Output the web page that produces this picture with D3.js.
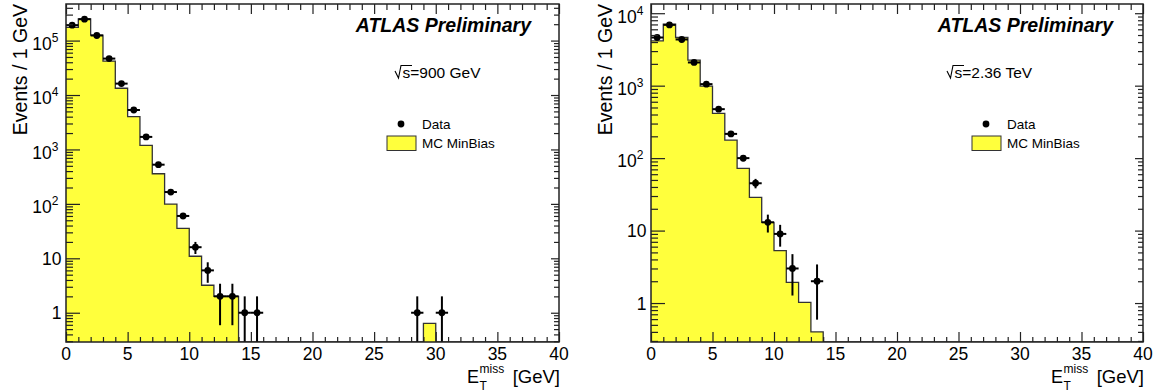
<!DOCTYPE html>
<html>
<head>
<meta charset="utf-8">
<script src="https://cdn.jsdelivr.net/npm/d3@7"></script>
<style>
  html, body { margin: 0; padding: 0; background: #fff; }
  svg { display: block; font-family: "Liberation Sans", Arial, Helvetica, sans-serif; }
</style>
</head>
<body>
<svg id="chart" width="1164" height="392"></svg>
<script>
// ---------------- DATA ----------------
const binLow = [0,1,2,3,4,5,6,7,8,9,10,11,12,13,14,15,16,17,18,19,20,21,22,23,24,25,26,27,28,29,30,31,32,33,34,35,36,37,38,39];
const binWidth = 1;

// sqrt(s) = 900 GeV
const data900 = [192000,247000,124000,46700,16200,5300,1700,525,165,60,16,6,2,2,1,1,0,0,0,0,0,0,0,0,0,0,0,0,1,0,1,0,0,0,0,0,0,0,0,0];
const err900  = [440,497,352,216,127,73,41,23,12.8,7.7,4,2.45,1.41,1.41,1,1,0,0,0,0,0,0,0,0,0,0,0,0,1,0,1,0,0,0,0,0,0,0,0,0];
const mc900   = [175000,250000,126000,42000,13300,4000,1190,358,99,35.5,10.9,3.2,2.0,2.0,0,0,0,0,0,0,0,0,0,0,0,0,0,0,0,0.64,0,0,0,0,0,0,0,0,0,0];

// sqrt(s) = 2.36 TeV
const data236 = [4620,6900,4340,2090,1050,474,216,100,45,13,9,3,0,2,0,0,0,0,0,0,0,0,0,0,0,0,0,0,0,0,0,0,0,0,0,0,0,0,0,0];
const err236  = [68,83,66,46,32,22,14.7,10,6.7,3.6,3,1.73,0,1.41,0,0,0,0,0,0,0,0,0,0,0,0,0,0,0,0,0,0,0,0,0,0,0,0,0,0];
const mc236   = [4150,7050,4620,2250,984,414,177,72,28.7,13,5.3,1.93,1.02,0.40,0,0,0,0,0,0,0,0,0,0,0,0,0,0,0,0,0,0,0,0,0,0,0,0,0,0];

const xMajorTicks = [0,5,10,15,20,25,30,35,40];
const xTickLabels = ["0","5","10","15","20","25","30","35","40"];
const yMajor900 = [1,10,100,1000,10000,100000];
const yMajor236 = [1,10,100,1000,10000];
const yExp900 = [null,null,2,3,4,5];
const yExp236 = [null,null,2,3,4];

const xTitleMain = "E", xTitleSup = "miss", xTitleSub = "T", xTitleUnit = "[GeV]";
const yTitle = "Events / 1 GeV";
const atlasText = "ATLAS Preliminary";
const legendData = "Data", legendMC = "MC MinBias";

// ---------------- LAYOUT ----------------
const panels = [
  { x0: 66, x1: 559, y0: 4, y1: 342, xdom: [0,40], ydom: [0.29, 4.7e5],
    data: data900, err: err900, mc: mc900, yMajor: yMajor900, yExp: yExp900,
    energy: "s=900 GeV", sqrtX: 395, atlasEnd: 531, legX: 0 },
  { x0: 651, x1: 1143, y0: 4, y1: 342, xdom: [0,40], ydom: [0.29, 1.34e4],
    data: data236, err: err236, mc: mc236, yMajor: yMajor236, yExp: yExp236,
    energy: "s=2.36 TeV", sqrtX: 947, atlasEnd: 1113, legX: 585 }
];

const svg = d3.select("#chart");
const yellow = "#ffff3c";
const lineCol = "#222";

panels.forEach((p, pi) => {
  const g = svg.append("g");
  const x = d3.scaleLinear().domain(p.xdom).range([p.x0, p.x1]);
  const y = d3.scaleLog().domain(p.ydom).range([p.y1, p.y0]);
  const yv = v => (v > p.ydom[0] ? y(v) : p.y1);

  const clipId = "clip" + pi;
  svg.append("clipPath").attr("id", clipId).append("rect")
    .attr("x", p.x0).attr("y", p.y0).attr("width", p.x1 - p.x0).attr("height", p.y1 - p.y0);

  // MC histogram
  const pts = binLow.map((b, i) => ({ x: b, v: p.mc[i] }));
  pts.push({ x: binLow[binLow.length - 1] + binWidth, v: p.mc[p.mc.length - 1] });
  const area = d3.area().curve(d3.curveStepAfter).x(d => x(d.x)).y0(p.y1).y1(d => yv(d.v));
  const line = d3.line().curve(d3.curveStepAfter).x(d => x(d.x)).y(d => yv(d.v));
  const hg = g.append("g").attr("clip-path", `url(#${clipId})`);
  hg.append("path").attr("d", area(pts)).attr("fill", yellow).attr("stroke", "none");
  hg.append("path").attr("d", line(pts)).attr("fill", "none").attr("stroke", "#333").attr("stroke-width", 1.3);

  // Data points with errors
  const dg = g.append("g").attr("clip-path", `url(#${clipId})`);
  binLow.forEach((b, i) => {
    const v = p.data[i];
    if (!(v > 0)) return;
    const e = p.err[i];
    const cx = x(b + binWidth / 2);
    dg.append("line").attr("x1", x(b)).attr("x2", x(b + binWidth))
      .attr("y1", y(v)).attr("y2", y(v)).attr("stroke", "#000").attr("stroke-width", 2);
    dg.append("line").attr("x1", cx).attr("x2", cx)
      .attr("y1", y(v + e)).attr("y2", yv(v - e)).attr("stroke", "#000").attr("stroke-width", 2);
    dg.append("circle").attr("cx", cx).attr("cy", y(v)).attr("r", 3.4).attr("fill", "#000");
  });

  // Axes ticks (inward)
  const xMinor = x.ticks(40).filter(t => !xMajorTicks.includes(t));
  const axStyle = sel => { sel.select(".domain").remove(); sel.selectAll("line").attr("stroke", lineCol).attr("stroke-width", 1.2); };
  g.append("g").attr("transform", `translate(0,${p.y1})`)
    .call(d3.axisBottom(x).tickValues(xMajorTicks).tickSizeInner(-10).tickSizeOuter(0).tickFormat(""))
    .call(axStyle);
  g.append("g").attr("transform", `translate(0,${p.y1})`)
    .call(d3.axisBottom(x).tickValues(xMinor).tickSizeInner(-5).tickSizeOuter(0).tickFormat(""))
    .call(axStyle);
  g.append("g").attr("transform", `translate(0,${p.y0})`)
    .call(d3.axisTop(x).tickValues(xMajorTicks).tickSizeInner(-10).tickSizeOuter(0).tickFormat(""))
    .call(axStyle);
  g.append("g").attr("transform", `translate(0,${p.y0})`)
    .call(d3.axisTop(x).tickValues(xMinor).tickSizeInner(-6).tickSizeOuter(0).tickFormat(""))
    .call(axStyle);

  const yMinor = y.ticks().filter(t => !p.yMajor.some(m => Math.abs(m - t) / m < 1e-6))
    .filter(t => t >= p.ydom[0] && t <= p.ydom[1]);
  g.append("g").attr("transform", `translate(${p.x0},0)`)
    .call(d3.axisLeft(y).tickValues(p.yMajor).tickSizeInner(-14).tickSizeOuter(0).tickFormat(""))
    .call(axStyle);
  g.append("g").attr("transform", `translate(${p.x0},0)`)
    .call(d3.axisLeft(y).tickValues(yMinor).tickSizeInner(-7).tickSizeOuter(0).tickFormat(""))
    .call(axStyle);
  g.append("g").attr("transform", `translate(${p.x1},0)`)
    .call(d3.axisRight(y).tickValues(p.yMajor).tickSizeInner(-8).tickSizeOuter(0).tickFormat(""))
    .call(axStyle);
  g.append("g").attr("transform", `translate(${p.x1},0)`)
    .call(d3.axisRight(y).tickValues(yMinor).tickSizeInner(-5).tickSizeOuter(0).tickFormat(""))
    .call(axStyle);

  // Frame
  g.append("rect").attr("x", p.x0).attr("y", p.y0).attr("width", p.x1 - p.x0).attr("height", p.y1 - p.y0)
    .attr("fill", "none").attr("stroke", lineCol).attr("stroke-width", 1.5);

  // X tick labels
  xMajorTicks.forEach((t, i) => {
    g.append("text").attr("x", x(t)).attr("y", p.y1 + 17.5).attr("text-anchor", "middle")
      .attr("font-size", 17.5).attr("fill", "#000").text(xTickLabels[i]);
  });

  // Y tick labels
  p.yMajor.forEach((t, i) => {
    const ex = p.yExp[i];
    if (ex === null) {
      g.append("text").attr("x", p.x0 - 4.5).attr("y", y(t) + 6.5).attr("text-anchor", "end")
        .attr("font-size", 17.5).attr("fill", "#000").text(String(t));
    } else {
      const tx = g.append("text").attr("x", p.x0 - 7.5).attr("y", y(t) + 9.3).attr("text-anchor", "end")
        .attr("font-size", 17.5).attr("fill", "#000");
      tx.append("tspan").text("10");
      tx.append("tspan").attr("font-size", 12).attr("dy", -8).text(String(ex));
    }
  });

  // Y title
  const ytx = p.x0 - 39;
  g.append("text").attr("transform", `translate(${ytx},${p.y0}) rotate(-90)`)
    .attr("text-anchor", "end").attr("font-size", 19.5).attr("fill", "#000").text(yTitle);

  // X title
  const xt0 = p.x1 - 92;
  g.append("text").attr("x", xt0).attr("y", 383).attr("font-size", 18).attr("fill", "#000").text(xTitleMain);
  g.append("text").attr("x", xt0 + 12.5).attr("y", 373).attr("font-size", 12).attr("fill", "#000").text(xTitleSup);
  g.append("text").attr("x", xt0 + 12.5).attr("y", 390).attr("font-size", 12).attr("fill", "#000").text(xTitleSub);
  g.append("text").attr("x", p.x1 + 1).attr("y", 383).attr("text-anchor", "end").attr("font-size", 18.5).attr("fill", "#000").text(xTitleUnit);

  // ATLAS Preliminary
  g.append("text").attr("x", p.atlasEnd).attr("y", 32).attr("text-anchor", "end")
    .attr("font-size", 19.5).attr("font-weight", "bold").attr("font-style", "italic").attr("fill", "#000").text(atlasText);

  // sqrt(s) label
  const sx = p.sqrtX;
  g.append("path").attr("d", `M${sx},71 L${sx + 3.5},78 L${sx + 6},65.5 L${sx + 17},65.5`)
    .attr("fill", "none").attr("stroke", "#000").attr("stroke-width", 1.1);
  g.append("text").attr("x", sx + 7.5).attr("y", 78).attr("font-size", 15.5).attr("fill", "#000").text(p.energy);

  // Legend
  const lx = p.legX;
  g.append("circle").attr("cx", 401 + lx).attr("cy", 124).attr("r", 3.4).attr("fill", "#000");
  g.append("text").attr("x", 422 + lx).attr("y", 129).attr("font-size", 13.5).attr("fill", "#000").text(legendData);
  g.append("rect").attr("x", 387 + lx).attr("y", 136).attr("width", 29).attr("height", 14.5)
    .attr("fill", yellow).attr("stroke", "#333").attr("stroke-width", 1);
  g.append("text").attr("x", 422 + lx).attr("y", 148).attr("font-size", 13.5).attr("fill", "#000").text(legendMC);
});
</script>
</body>
</html>
